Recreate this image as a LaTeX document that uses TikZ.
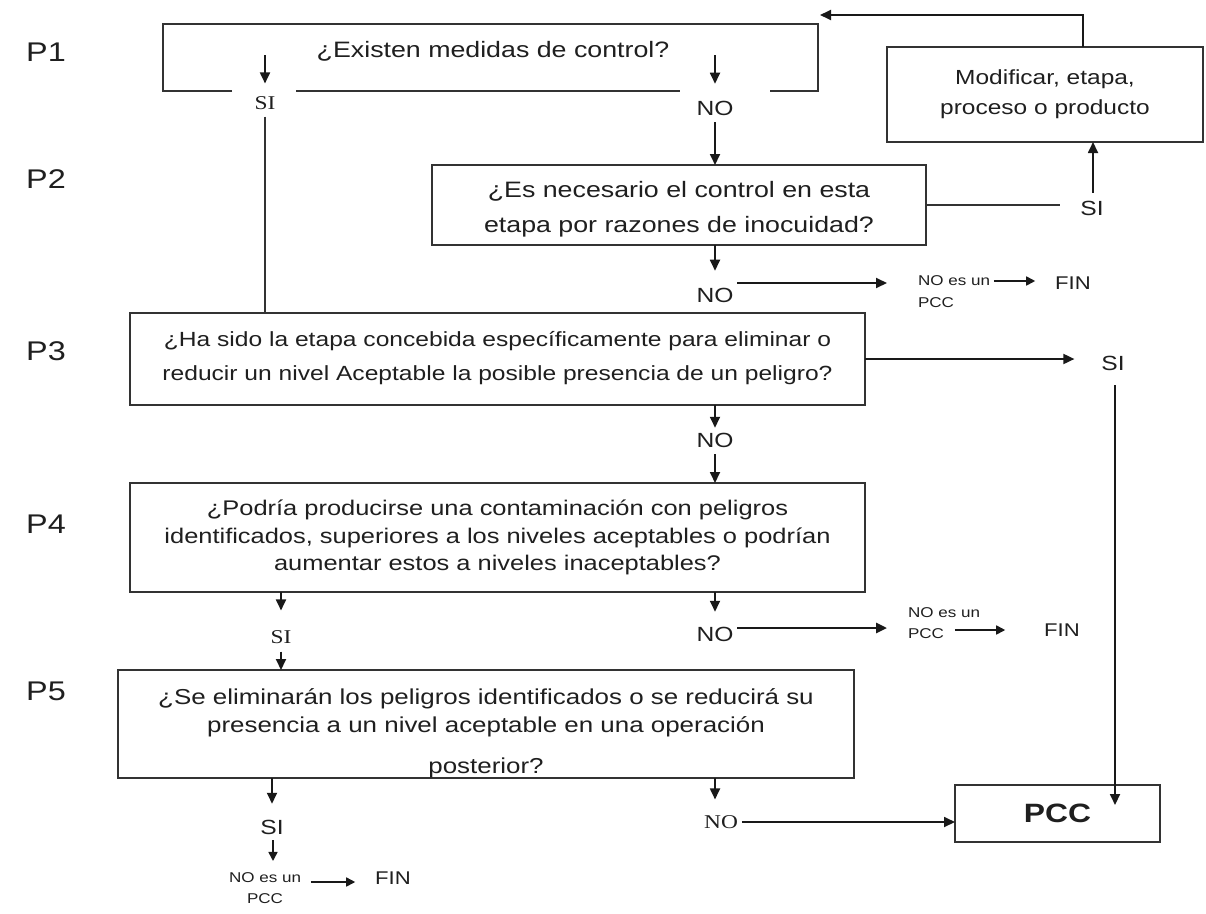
\documentclass[tikz,border=0pt]{standalone}
\usepackage{fontspec}
\setmainfont[FakeStretch=1.2]{Liberation Sans}
\newfontfamily\tmsf[FakeStretch=1.2]{Liberation Serif}
\usetikzlibrary{arrows.meta}
\newcommand\fsz[2]{\fontsize{#1}{#2}\selectfont}
\begin{document}
\begin{tikzpicture}[x=1pt,y=-1pt,
  every node/.style={text=black!88, inner sep=0pt, outer sep=0pt},
  bx/.style={draw=black!80, line width=1.8pt, rectangle},
  arr/.style={draw=black!90, line width=1.8pt, -{Triangle[length=11pt,width=10pt]}},
  arrs/.style={draw=black!90, line width=1.6pt, -{Triangle[length=9pt,width=9pt]}},
  ln/.style={draw=black!80, line width=1.5pt},
  plab/.style={font=\fsz{27}{30}},
  lbl/.style={font=\fsz{20.5}{22}},
  lbls/.style={font=\tmsf\fsz{19.5}{22}},
  small/.style={font=\fsz{14.2}{16}},
  fin/.style={font=\fsz{18.4}{20}},
]
\useasboundingbox[fill=white] (0,0) rectangle (1206,913);

% ---- row labels
\node[plab] (lp1) at (46,52) {P1};
\node[plab] (lp2) at (46,179) {P2};
\node[plab] (lp3) at (46,351) {P3};
\node[plab] (lp4) at (46,524) {P4};
\node[plab] (lp5) at (46,691) {P5};

% ---- P1
\node[minimum width=655, minimum height=67] (p1) at (490.5,57.5) {};
\node[font=\fsz{22.3}{25}] (p1t) at (493,51) {¿Existen medidas de control?};
\coordinate (a1) at (265,55);
\coordinate (a2) at (715,55);
\node[lbls] (si1) at (265,103) {SI};
\node[lbl] (no1) at (715,108) {NO};

% ---- P2
\node[bx, minimum width=494, minimum height=80] (p2) at (679,205) {};
\node[font=\fsz{22.3}{35}, align=center] (p2t) at (679,209) {¿Es necesario el control en esta\\etapa por razones de inocuidad?};
\node[lbl] (si2) at (1092,208) {SI};
\node[bx, minimum width=316, minimum height=95, font=\fsz{20.4}{30}, align=center] (mod) at (1045,94.5) {Modificar, etapa,\\proceso o producto};
\coordinate (lp) at (1083,15);
\coordinate (lpe) at (820,15);
\node[lbl] (no2) at (715,295) {NO};
\node[small, anchor=west] (ne1) at (918,281) {NO es un};
\node[small, anchor=west] (pc1) at (918,303) {PCC};
\node[fin] (fin1) at (1073,283) {FIN};
\coordinate (n2a) at (737,283);

% ---- P3
\node[bx, minimum width=735, minimum height=92] (p3) at (497.5,359) {};
\node[font=\fsz{20.5}{34}, align=center] (p3t) at (497.5,358) {¿Ha sido la etapa concebida específicamente para eliminar o\\reducir un nivel Aceptable la posible presencia de un peligro?};
\node[lbl] (si3) at (1113,363) {SI};
\coordinate (v1) at (1115,385);
\coordinate (v2) at (1115,805);
\node[lbl] (no3) at (715,440) {NO};

% ---- P4
\node[bx, minimum width=735, minimum height=109] (p4) at (497.5,537.5) {};
\node[font=\fsz{21.2}{27.5}, align=center] (p4t) at (497.5,537.5) {¿Podría producirse una contaminación con peligros\\identificados, superiores a los niveles aceptables o podrían\\aumentar estos a niveles inaceptables?};
\node[lbls] (si4) at (281,637) {SI};
\node[lbl] (no4) at (715,634) {NO};
\coordinate (n4a) at (737,628);
\node[small, anchor=west] (ne2) at (908,613) {NO es un};
\node[small, anchor=west] (pc2) at (908,634) {PCC};
\node[fin] (fin2) at (1062,630) {FIN};

% ---- P5
\node[bx, minimum width=736, minimum height=108] (p5) at (486,724) {};
\node[font=\fsz{21.6}{28}, align=center, anchor=north] (p5t) at (486,689) {¿Se eliminarán los peligros identificados o se reducirá su\\presencia a un nivel aceptable en una operación\\[13pt]posterior?};
\node[lbl] (si5) at (272,827) {SI};
\node[small] (ne3) at (265,878) {NO es un};
\node[small] (pc3) at (265,899) {PCC};
\node[fin] (fin3) at (393,878) {FIN};
\node[font=\tmsf\fsz{19.5}{22}] (no5) at (721,822) {NO};
\node[bx, minimum width=205, minimum height=57, font=\bfseries\fsz{26.5}{28}] (pcc) at (1057.5,813.5) {PCC};

% ================= connectors / outlines
% P1 open box
\draw[bx] (232,91) -- (p1.south west) -- (p1.north west) -- (p1.north east) -- (p1.south east) -- (770,91);
\draw[bx] (296,91) -- (680,91);
\draw[arr, shorten >=13pt] (a1) -- (si1.north);
\draw[arr, shorten >=17pt] (a2) -- (no1.north);
\draw[ln, shorten <=7pt] (si1.south) -- (si1.south |- p3.north);
\draw[arr, shorten <=7pt] (no1.south) -- (no1.south |- p2.north);

% P2
\draw[ln, shorten >=20pt] (p2.east) -- (p2.east -| si2.west);
\draw[arr, shorten <=8pt] ([xshift=1pt]si2.north) -- ([xshift=1pt]si2.north |- mod.south);
\draw[arr] (mod.north -| lp) -- (lp) -- (lpe);
\draw[arr, shorten >=17pt] (p2.south -| no2) -- (no2.north);
\draw[arr, shorten >=31pt] (n2a) -- (n2a -| ne1.west);
\draw[arrs, shorten <=4pt, shorten >=20pt] (ne1.east) -- (ne1.east -| fin1.west);

% P3
\draw[arr, shorten >=27pt] (p3.east) -- (p3.east -| si3.west);
\draw[arr] (v1) -- (v2);
\draw[arr, shorten >=5pt] (p3.south -| no3) -- (no3.north);
\draw[arr, shorten <=7pt] (no3.south) -- (no3.south |- p4.north);

% P4
\draw[arr, shorten >=20pt] (p4.south -| si4) -- (si4.north);
\draw[arr, shorten <=8pt] (si4.south) -- (si4.south |- p5.north);
\draw[arr, shorten >=15pt] (p4.south -| no4) -- (no4.north);
\draw[arr, line width=2.6pt, shorten >=21pt] (n4a) -- (n4a -| ne2.west);
\draw[arrs, shorten <=11pt, shorten >=39pt] (pc2.east |- fin2) -- (fin2.west);

% P5
\draw[arr, shorten >=16pt] (p5.south -| si5) -- (si5.north);
\draw[arrs, shorten <=6pt, shorten >=12pt] ([xshift=1pt]si5.south) -- ([xshift=1pt]si5.south |- ne3.north);
\draw[arrs, shorten <=10pt, shorten >=20pt] ([yshift=-4pt]ne3.east) -- ([yshift=-4pt]ne3.east -| fin3.west);
\draw[arr, shorten >=16pt] (p5.south -| no1) -- (no1 |- no5.north);
\draw[arr, shorten <=4pt] (no5.east) -- (no5.east -| pcc.west);
\end{tikzpicture}
\end{document}
